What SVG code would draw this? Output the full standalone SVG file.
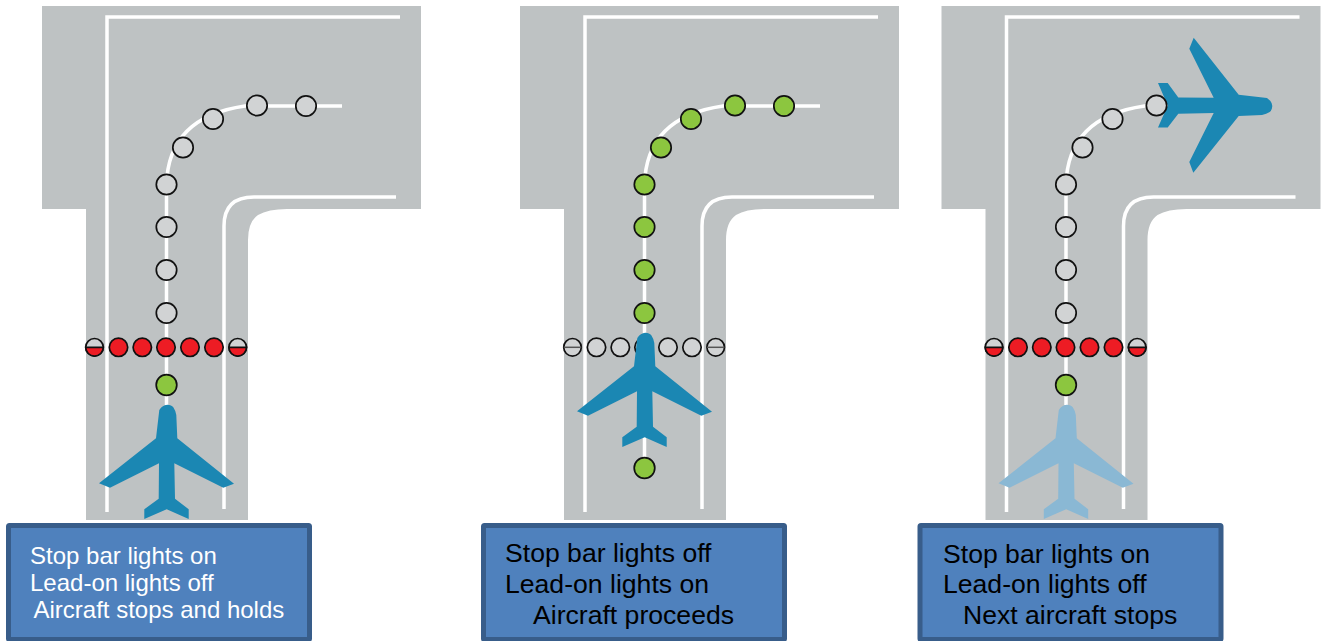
<svg xmlns="http://www.w3.org/2000/svg" width="1321" height="641" viewBox="0 0 1321 641">
<style>
.pave{fill:#bec2c3}
.mark{fill:none;stroke:#fff;stroke-width:3.500}
.cl{fill:none;stroke:#fff;stroke-width:3.500}
.off{fill:#d1d3d4;stroke:#111;stroke-width:1.700}
.green{fill:#8cc63f;stroke:#111;stroke-width:1.700}
.red{fill:#ed1c24;stroke:#111;stroke-width:1.700}
.div{fill:none;stroke:#555;stroke-width:1.500}
.plane{fill:#1b87b3}
.ghost{fill:#8ab8d4}
.box{fill:#4f81bd;stroke:#385d8a;stroke-width:5}
text{font-family:"Liberation Sans",Arial,sans-serif;fill:#000}
.t1{font-size:24px;fill:#fff}
.t2{font-size:26.600px}
</style>
<defs>
<g id="pavement">
<path class="pave" d="M42 6H421V209H287Q268 209 258 215Q248 222 248 240V520H86V209H42Z"/>
<path class="mark" d="M107 512V17H400"/>
<path class="mark" d="M224 509V226Q224 197 254 197H396"/>
<path class="cl" d="M166.500 405V185Q168 117 245 106H342"/>
</g>
<g id="taxi">
<circle cx="257" cy="105.500" r="10.200"/><circle cx="213" cy="119" r="10.200"/><circle cx="183" cy="147.500" r="10.200"/><circle cx="166.500" cy="184.500" r="10.200"/><circle cx="166.500" cy="227" r="10.200"/><circle cx="166.500" cy="270" r="10.200"/><circle cx="166.500" cy="313" r="10.200"/>
</g>
<path id="plane" d="M167.300 404.700Q171.500 404.700 173.300 407.300Q175.500 410.500 176.300 415L177.300 438.300L234 483.700L223.300 487.700L174.300 463.300L175 498.700L188.700 509.300L188.700 519L166.700 509.300L144.300 519L144.300 509.300L158.700 498.700L159 463.300L110 487.700L99 483.300L156 438.300L159.300 410Q162.500 405 167.300 404.700Z"/>
<g id="bar-on">
<circle class="off" cx="94.500" cy="347.300" r="8.800"/><path class="red" d="M85.700 347.300H103.300A8.800 8.800 0 0 1 85.700 347.300Z"/>
<circle class="off" cx="237.700" cy="347.300" r="8.800"/><path class="red" d="M228.900 347.300H246.500A8.800 8.800 0 0 1 228.900 347.300Z"/>
<g class="red"><circle cx="118.500" cy="347.300" r="9.200"/><circle cx="142.300" cy="347.300" r="9.200"/><circle cx="166" cy="347.300" r="9.200"/><circle cx="190" cy="347.300" r="9.200"/><circle cx="214" cy="347.300" r="9.200"/></g>
</g>
<g id="bar-off">
<circle class="off" cx="94.500" cy="347.300" r="8.800"/><path class="div" d="M85.700 347.300H103.300"/>
<circle class="off" cx="237.700" cy="347.300" r="8.800"/><path class="div" d="M228.900 347.300H246.500"/>
<g class="off"><circle cx="118.500" cy="347.300" r="9.200"/><circle cx="142.300" cy="347.300" r="9.200"/><circle cx="166" cy="347.300" r="9.200"/><circle cx="190" cy="347.300" r="9.200"/><circle cx="214" cy="347.300" r="9.200"/></g>
</g>
</defs>
<g id="panel-1">
<use href="#pavement"/><use href="#taxi" class="off"/><circle class="off" cx="306" cy="106" r="10.200"/><use href="#bar-on"/>
<circle class="green" cx="166.500" cy="385" r="10.300"/>
<use href="#plane" class="plane"/>
<g id="caption-1"><rect class="box" x="8.500" y="525.500" width="301" height="114" rx="1"/>
<text class="t1" x="30" y="564">Stop bar lights on</text><text class="t1" x="30" y="591">Lead-on lights off</text><text class="t1" x="33.500" y="618">Aircraft stops and holds</text></g>
</g>
<g id="panel-2" transform="translate(478 0)">
<use href="#pavement"/><path class="cl" d="M166.500 400V475"/><use href="#taxi" class="green"/><circle class="green" cx="306" cy="106" r="10.200"/><use href="#bar-off"/>
<circle class="green" cx="166.500" cy="468" r="10.300"/>
<use href="#plane" class="plane" transform="translate(0 -72)"/>
</g>
<g id="caption-2"><rect class="box" x="483.500" y="525.500" width="301" height="114" rx="1"/>
<text class="t2" x="505" y="562">Stop bar lights off</text><text class="t2" x="505" y="593">Lead-on lights on</text><text class="t2" x="533" y="624">Aircraft proceeds</text></g>
<g id="panel-3" transform="translate(899.500 0)">
<use href="#pavement"/>
<use href="#plane" class="plane" transform="translate(372.500 105.500) rotate(90) translate(-166.700 -405)"/>
<use href="#taxi" class="off"/><use href="#bar-on"/>
<circle class="green" cx="166.500" cy="385" r="10.300"/>
<use href="#plane" class="ghost"/>
</g>
<g id="caption-3"><rect class="box" x="920" y="525.500" width="301" height="114" rx="1"/>
<text class="t2" x="943" y="563">Stop bar lights on</text><text class="t2" x="943" y="593">Lead-on lights off</text><text class="t2" x="963" y="624">Next aircraft stops</text></g>
</svg>
